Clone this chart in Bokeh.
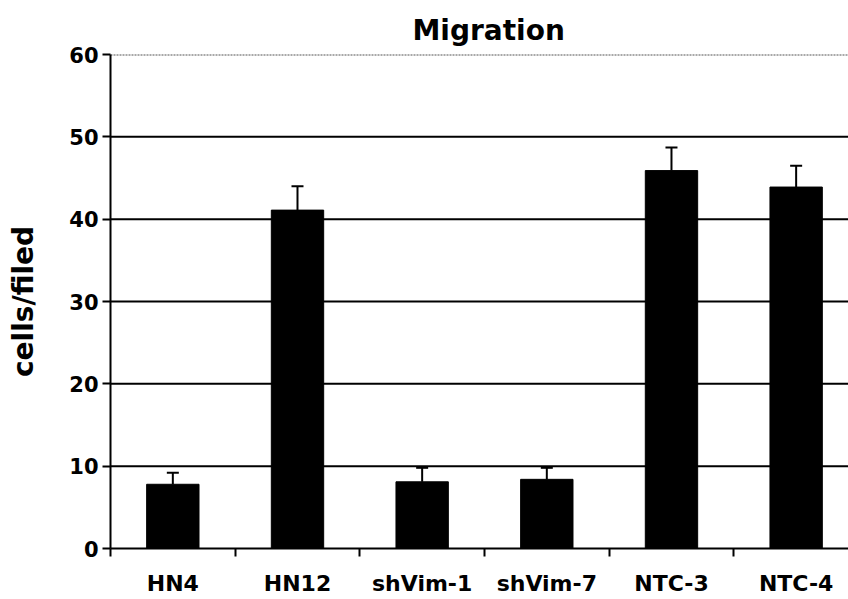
from bokeh.plotting import figure
from bokeh.models import ColumnDataSource, FixedTicker, Range1d, Whisker, Span
from bokeh.embed import file_html
from bokeh.resources import INLINE

categories = ["HN4", "HN12", "shVim-1", "shVim-7", "NTC-3", "NTC-4"]
values = [7.8, 41.1, 8.1, 8.4, 45.9, 43.9]
errors = [1.4, 2.9, 1.7, 1.4, 2.8, 2.6]
y_ticks = [0, 10, 20, 30, 40, 50, 60]

xs = [i + 0.5 for i in range(len(categories))]
src = ColumnDataSource(dict(
    x=xs, top=values, upper=[v + e for v, e in zip(values, errors)],
))

FONT = "DejaVu Sans"

p = figure(width=848, height=599, output_backend="svg", toolbar_location=None,
           x_range=Range1d(0, 5.92), y_range=Range1d(0, 60),
           title="Migration", min_border_left=110, min_border_right=0,
           min_border_top=54, min_border_bottom=51)
p.outline_line_color = None
p.background_fill_color = "white"
p.border_fill_color = "white"

p.title.align = "left"
p.title.offset = 302
p.title.standoff = 16
p.title.text_font = FONT
p.title.text_font_style = "bold"
p.title.text_font_size = "28px"
p.title.text_color = "black"

p.vbar(x="x", top="top", width=0.42, source=src, fill_color="black", line_color="black")
w = Whisker(base="x", upper="upper", lower="top", source=src, dimension="height",
            line_color="black", line_width=2)
w.upper_head.size = 12
w.upper_head.line_width = 2
w.upper_head.line_color = "black"
w.lower_head = None
p.add_layout(w)

# Axes
xa = p.xaxis[0]
xa.ticker = FixedTicker(ticks=xs, minor_ticks=list(range(0, 7)))
xa.major_label_overrides = {x: c for x, c in zip(xs, categories)}
xa.major_tick_line_color = None
xa.minor_tick_out = 8
xa.minor_tick_in = 0
xa.minor_tick_line_width = 2
xa.minor_tick_line_color = "black"
xa.axis_line_width = 2
xa.axis_line_color = "black"
xa.major_label_text_font = FONT
xa.major_label_text_font_style = "bold"
xa.major_label_text_font_size = "22px"
xa.major_label_text_color = "black"
xa.major_label_standoff = 14

ya = p.yaxis[0]
ya.ticker = FixedTicker(ticks=y_ticks)
ya.minor_tick_line_color = None
ya.major_tick_out = 8
ya.major_tick_in = 0
ya.major_tick_line_width = 2
ya.major_tick_line_color = "black"
ya.axis_line_width = 2
ya.axis_line_color = "black"
ya.major_label_text_font = FONT
ya.major_label_text_font_style = "bold"
ya.major_label_text_font_size = "21px"
ya.major_label_text_color = "black"
ya.major_label_standoff = 4
ya.axis_label = "cells/filed"
ya.axis_label_text_font = FONT
ya.axis_label_text_font_style = "bold"
ya.axis_label_text_font_size = "28px"
ya.axis_label_text_color = "black"
ya.axis_label_standoff = 26

p.xgrid.visible = False
p.ygrid.visible = False
for yv in y_ticks[1:-1]:
    p.add_layout(Span(location=yv, dimension="width", line_color="black", line_width=2, level="underlay"))
p.add_layout(Span(location=60, dimension="width", line_color="#555555", line_width=2,
                  line_dash="2 1", level="underlay"))

open("out.html", "w").write(file_html(p, INLINE))
